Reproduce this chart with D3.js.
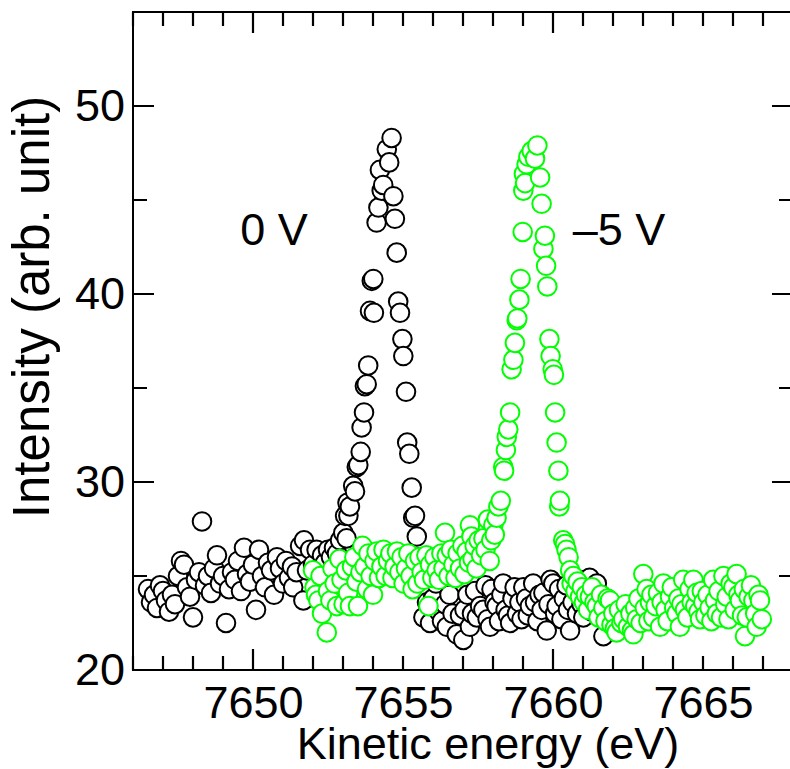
<!DOCTYPE html>
<html lang="en">
<head>
    <meta charset="UTF-8">
    <title>Kinetic energy spectra</title>
    <script src="https://d3js.org/d3.v7.min.js"></script>
    <style>
        body { margin: 0; background: #fff; }
        svg text { font-family: Arial, "Liberation Sans", sans-serif; fill: #000; }
    </style>
</head>
<body>

    <div id="chart"></div>

    <script>

// data: [energy (eV), intensity (arb. unit)]
const data0V = [
[7646.5,24.3],[7646.6,23.6],[7646.7,24.0],[7646.8,23.3],[7646.9,24.5],[7647.0,24.2],[7647.1,23.7],[7647.2,23.1],
[7647.3,24.0],[7647.4,23.5],[7647.5,25.0],[7647.6,25.8],[7647.7,25.6],[7647.8,24.4],[7647.9,23.9],[7648.0,22.8],
[7648.1,24.8],[7648.2,25.2],[7648.3,27.9],[7648.4,24.5],[7648.5,25.0],[7648.6,24.1],[7648.7,25.4],[7648.8,26.1],
[7648.9,24.6],[7649.0,25.0],[7649.1,22.5],[7649.2,24.3],[7649.3,25.2],[7649.4,24.8],[7649.5,25.8],[7649.6,24.2],
[7649.7,26.5],[7649.8,25.1],[7649.9,24.7],[7650.0,25.6],[7650.1,23.2],[7650.2,26.4],[7650.3,25.0],[7650.4,24.4],
[7650.5,25.7],[7650.6,25.3],[7650.7,24.0],[7650.8,26.0],[7650.9,25.4],[7651.0,24.6],[7651.1,25.8],[7651.2,24.9],
[7651.3,25.5],[7651.34,24.4],[7651.45,25.2],[7651.57,26.6],[7651.68,23.7],[7651.7,26.9],[7651.8,25.3],[7651.9,26.4],
[7652.0,25.6],[7652.12,26.4],[7652.2,25.4],[7652.3,26.1],[7652.4,25.7],[7652.5,26.4],[7652.6,26.0],[7652.7,26.5],
[7652.8,26.2],[7652.9,26.9],[7653.01,27.3],[7653.07,28.2],[7653.12,27.0],[7653.15,28.9],[7653.18,28.2],[7653.23,28.7],
[7653.34,29.8],[7653.4,29.5],[7653.46,30.8],[7653.51,30.9],[7653.59,31.6],[7653.62,32.9],[7653.7,33.7],[7653.73,35.1],
[7653.79,35.2],[7653.84,36.2],[7653.9,39.1],[7653.96,40.7],[7654.01,40.8],[7654.03,39.0],[7654.12,43.8],[7654.18,44.6],
[7654.23,46.6],[7654.29,45.5],[7654.34,45.8],[7654.46,47.7],[7654.54,47.0],[7654.62,48.3],[7654.68,45.2],[7654.73,44.0],
[7654.79,42.2],[7654.84,39.6],[7654.9,39.0],[7654.98,37.6],[7655.01,36.7],[7655.1,34.8],[7655.14,32.1],[7655.21,31.5],
[7655.29,29.7],[7655.34,28.1],[7655.4,28.2],[7655.46,27.1],[7655.55,26.0],[7655.6,25.2],[7655.68,22.8],[7655.75,24.3],
[7655.8,23.6],[7655.9,22.5],[7656.0,23.8],[7656.1,24.6],[7656.2,23.1],[7656.3,22.6],[7656.4,23.5],[7656.46,22.3],
[7656.55,24.0],[7656.65,23.0],[7656.79,21.9],[7656.9,22.9],[7657.01,21.6],[7657.05,23.2],[7657.15,24.0],[7657.23,22.3],
[7657.3,23.0],[7657.4,24.2],[7657.46,22.8],[7657.57,23.4],[7657.68,23.2],[7657.75,24.5],[7657.82,22.7],[7657.9,22.3],
[7657.95,24.3],[7658.05,23.6],[7658.12,23.4],[7658.2,22.6],[7658.28,24.0],[7658.34,24.6],[7658.42,23.2],[7658.5,22.9],
[7658.57,22.5],[7658.65,23.8],[7658.72,24.4],[7658.8,23.0],[7658.88,23.6],[7658.95,22.7],[7659.01,24.4],[7659.1,23.8],
[7659.16,22.9],[7659.23,23.4],[7659.34,24.6],[7659.4,23.6],[7659.48,22.6],[7659.55,24.0],[7659.62,23.2],[7659.68,24.1],
[7659.79,22.1],[7659.85,23.5],[7659.92,24.8],[7660.01,24.6],[7660.07,23.0],[7660.12,23.4],[7660.2,24.3],[7660.28,22.7],
[7660.36,23.8],[7660.45,24.5],[7660.5,23.2],[7660.57,22.1],[7660.65,23.6],[7660.72,24.4],[7660.8,23.0],[7660.88,24.8],
[7660.95,23.5],[7661.01,22.8],[7661.08,24.2],[7661.15,23.7],[7661.22,24.9],[7661.3,23.1],[7661.38,24.4],[7661.46,24.6],
[7661.52,23.3],[7661.6,24.0],[7661.68,21.8],[7661.72,23.6]
];

const data5V = [
[7652.0,25.3],[7652.05,24.4],[7652.1,24.0],[7652.18,23.7],[7652.25,25.0],[7652.3,23.0],[7652.46,22.0],[7652.5,24.2],
[7652.58,23.7],[7652.65,25.4],[7652.72,24.6],[7652.8,23.4],[7652.88,25.9],[7652.95,24.8],[7653.02,23.5],[7653.1,25.3],
[7653.17,24.1],[7653.23,23.4],[7653.3,25.5],[7653.38,26.0],[7653.45,24.7],[7653.5,23.4],[7653.58,25.2],[7653.65,26.6],
[7653.72,25.5],[7653.8,24.3],[7653.85,26.2],[7653.92,25.0],[7654.0,24.0],[7654.05,25.8],[7654.12,26.3],[7654.2,24.9],
[7654.28,25.5],[7654.35,26.4],[7654.42,25.0],[7654.5,25.8],[7654.58,26.2],[7654.65,24.9],[7654.72,25.5],[7654.8,26.3],
[7654.88,25.2],[7654.95,26.0],[7655.02,24.6],[7655.1,25.4],[7655.18,26.2],[7655.25,25.0],[7655.32,24.3],[7655.4,25.8],
[7655.48,24.6],[7655.55,26.0],[7655.62,25.2],[7655.7,24.8],[7655.78,26.1],[7655.85,23.4],[7655.9,25.6],[7655.98,24.9],
[7656.05,26.0],[7656.12,25.3],[7656.2,24.8],[7656.28,26.2],[7656.35,25.4],[7656.4,27.3],[7656.46,26.1],[7656.52,25.0],
[7656.6,26.4],[7656.68,25.6],[7656.75,24.9],[7656.82,26.2],[7656.9,25.4],[7656.98,26.6],[7657.05,25.1],[7657.12,26.3],
[7657.2,25.7],[7657.23,27.7],[7657.28,27.1],[7657.32,25.9],[7657.39,26.6],[7657.45,25.4],[7657.52,26.9],[7657.6,26.1],
[7657.68,27.0],[7657.75,26.4],[7657.83,28.0],[7657.89,25.8],[7657.94,26.9],[7658.01,27.7],[7658.06,27.2],[7658.12,28.1],
[7658.18,28.7],[7658.26,29.0],[7658.34,30.8],[7658.37,30.6],[7658.43,31.7],[7658.46,32.4],[7658.51,32.8],[7658.57,33.7],
[7658.62,36.0],[7658.68,36.5],[7658.73,37.4],[7658.79,38.6],[7658.81,38.7],[7658.88,39.7],[7658.92,40.8],[7658.99,43.3],
[7659.01,45.5],[7659.03,46.4],[7659.07,45.9],[7659.12,46.9],[7659.18,47.3],[7659.29,47.6],[7659.4,47.2],[7659.48,47.9],
[7659.57,46.2],[7659.62,44.8],[7659.68,42.4],[7659.73,43.1],[7659.77,41.5],[7659.81,40.4],[7659.88,37.6],[7659.92,36.7],
[7659.99,36.0],[7660.03,35.7],[7660.07,33.7],[7660.12,32.1],[7660.18,30.6],[7660.21,28.7],[7660.23,29.0],[7660.34,26.9],
[7660.4,26.7],[7660.45,26.4],[7660.52,26.0],[7660.57,25.3],[7660.62,24.6],[7660.68,25.0],[7660.75,24.2],[7660.82,24.7],
[7660.9,23.9],[7660.96,24.4],[7661.03,23.6],[7661.1,24.0],[7661.17,23.2],[7661.23,23.9],[7661.3,24.4],[7661.38,23.6],
[7661.46,23.4],[7661.52,22.8],[7661.6,24.0],[7661.68,23.3],[7661.75,22.6],[7661.82,23.8],[7661.9,23.7],[7661.95,22.4],
[7662.01,23.0],[7662.06,22.2],[7662.12,22.0],[7662.2,23.2],[7662.28,22.5],[7662.34,22.7],[7662.42,23.5],[7662.5,22.3],
[7662.58,23.0],[7662.63,22.1],[7662.68,21.9],[7662.74,23.3],[7662.79,22.7],[7662.85,23.8],[7662.92,22.5],[7663.01,25.1],
[7663.06,23.3],[7663.12,24.3],[7663.18,22.6],[7663.23,23.6],[7663.28,24.0],[7663.34,22.8],[7663.42,23.4],[7663.5,24.1],
[7663.57,22.3],[7663.62,23.6],[7663.68,24.6],[7663.75,23.2],[7663.82,22.6],[7663.9,23.9],[7663.96,24.4],[7664.04,23.3],
[7664.12,23.0],[7664.18,23.8],[7664.23,22.3],[7664.28,23.5],[7664.34,24.8],[7664.4,23.2],[7664.48,22.8],[7664.55,24.3],
[7664.62,23.6],[7664.68,24.8],[7664.74,23.4],[7664.79,24.1],[7664.85,23.1],[7664.9,22.7],[7664.96,24.2],[7665.01,23.6],
[7665.08,22.9],[7665.15,24.0],[7665.22,23.3],[7665.28,22.6],[7665.34,24.8],[7665.4,23.7],[7665.46,23.0],[7665.52,24.2],
[7665.6,22.8],[7665.68,25.0],[7665.74,23.5],[7665.79,23.9],[7665.85,22.7],[7665.92,24.6],[7666.01,24.4],[7666.06,23.2],
[7666.12,25.1],[7666.18,24.0],[7666.23,23.7],[7666.3,22.9],[7666.36,24.3],[7666.4,21.8],[7666.46,22.8],[7666.52,23.9],
[7666.6,24.5],[7666.68,23.7],[7666.74,23.0],[7666.79,22.3],[7666.85,24.0],[7666.9,23.7],[7666.96,22.7]
];

const xDomain = [7646, 7668];
const yDomain = [20, 55];
const xTickValues = d3.range(7646, 7669);        // minor every 1 eV
const xLabelValues = [7650, 7655, 7660, 7665];
const yTickValues = [20, 25, 30, 35, 40, 45, 50, 55];
const yLabelValues = [20, 30, 40, 50];
const annotations = [
    { text: "0 V", energy: 7650.7, intensity: 42.6 },
    { text: "\u20135 V", energy: 7662.2, intensity: 42.6 }
];

// plot box (px)
const plotLeft = 133, plotTop = 12, plotRight = 793, plotBottom = 670;

const svg = d3.select("#chart")
    .append("svg")
    .attr("width", 790)
    .attr("height", 769);

const x = d3.scaleLinear().domain(xDomain).range([plotLeft, plotRight]);
const y = d3.scaleLinear().domain(yDomain).range([plotBottom, plotTop]);

const minor = 14, major = 21;
const len = d => d % 10 === 0 ? major : minor;

// frame
svg.append("rect")
    .attr("x", plotLeft).attr("y", plotTop)
    .attr("width", plotRight - plotLeft).attr("height", plotBottom - plotTop)
    .attr("fill", "none").attr("stroke", "#000").attr("stroke-width", 2);

// inward ticks on all four sides, one path
let tickPath = "";
xTickValues.forEach(d => {
    tickPath += `M${x(d)},${plotBottom}V${plotBottom - len(d)}`;
    tickPath += `M${x(d)},${plotTop}V${plotTop + len(d)}`;
});
yTickValues.forEach(d => {
    tickPath += `M${plotLeft},${y(d)}H${plotLeft + len(d)}`;
    tickPath += `M${plotRight},${y(d)}H${plotRight - len(d)}`;
});
svg.append("path")
    .attr("d", tickPath)
    .attr("fill", "none")
    .attr("stroke", "#000")
    .attr("stroke-width", 2.2);

// tick labels through d3 axes (no tick lines of their own)
svg.append("g")
    .attr("transform", `translate(0,${plotBottom})`)
    .call(d3.axisBottom(x).tickValues(xLabelValues).tickSize(0).tickPadding(16).tickFormat(d3.format("d")))
    .call(g => g.selectAll(".domain, line").remove());

svg.append("g")
    .attr("transform", `translate(${plotLeft},0)`)
    .call(d3.axisLeft(y).tickValues(yLabelValues).tickSize(0).tickPadding(8).tickFormat(d3.format("d")))
    .call(g => g.selectAll(".domain, line").remove());

svg.selectAll(".tick text")
    .attr("font-size", 45)
    .attr("fill", "#000")
    .attr("font-family", "Arial, 'Liberation Sans', sans-serif");

// markers: open circles
function drawSeries(data, color) {
    svg.append("g")
        .selectAll("circle")
        .data(data)
        .enter().append("circle")
        .attr("cx", d => x(d[0]))
        .attr("cy", d => y(d[1]))
        .attr("r", 9.3)
        .attr("fill", "#fff")
        .attr("stroke", color)
        .attr("stroke-width", 2);
}
drawSeries(data0V, "#000");
drawSeries(data5V, "#00ff00");

// labels on the plot
svg.selectAll(".annot")
    .data(annotations)
    .enter().append("text")
    .attr("class", "annot")
    .attr("x", d => x(d.energy))
    .attr("y", d => y(d.intensity))
    .attr("text-anchor", "middle")
    .attr("font-size", 45)
    .text(d => d.text);

// axis titles
svg.append("text")
    .attr("x", 488)
    .attr("y", 759)
    .attr("text-anchor", "middle")
    .attr("font-size", 45)
    .text("Kinetic energy (eV)");

svg.append("text")
    .attr("transform", "translate(49,307) rotate(-90)")
    .attr("text-anchor", "middle")
    .attr("font-size", 51)
    .text("Intensity (arb. unit)");

    </script>
</body>
</html>
